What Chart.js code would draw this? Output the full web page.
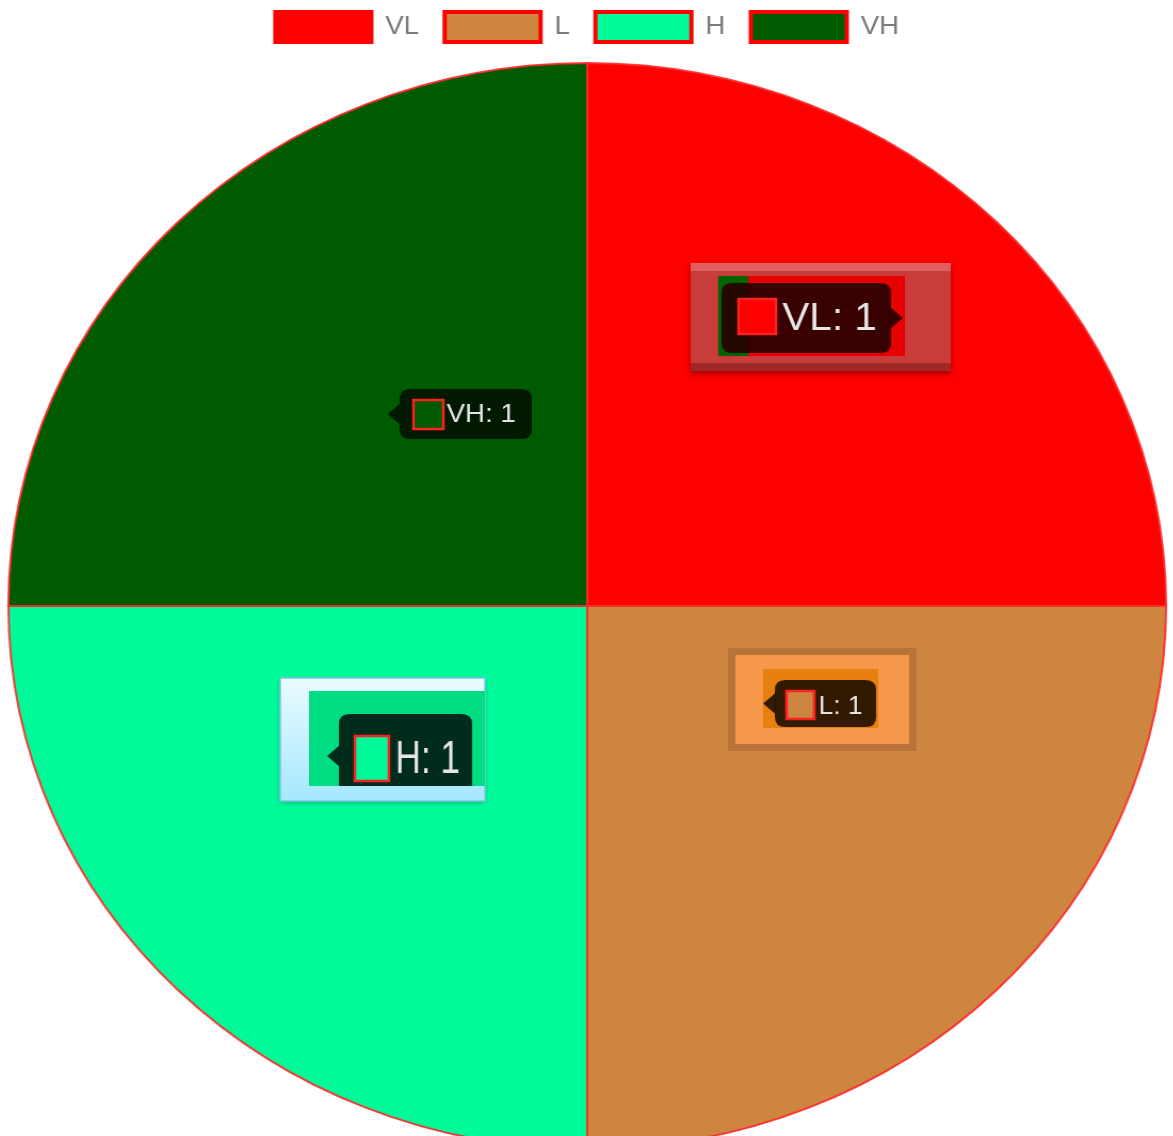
<!DOCTYPE html>
<html lang="en">
<head>
    <meta charset="UTF-8">
    <title>Pie VL / L / H / VH</title>
    <style>
        html, body { margin: 0; padding: 0; background: #fff; overflow: hidden; }
        /* the reference pie is a bit wider than it is tall */
        .wrap { width: 1098px; height: 1150px; transform: translateX(2px) scaleX(1.066); transform-origin: 0 0; }
    </style>
</head>
<body>
    <div class="wrap"><canvas id="pieChart"></canvas></div>

    <script src="https://cdn.jsdelivr.net/npm/chart.js"></script>
    <script>
        const labels = ['VL', 'L', 'H', 'VH'];
        const values = [1, 1, 1, 1];
        const colors = ['#ff0000', '#cd853f', '#00fa9a', '#005a00'];

        // the tooltip boxes that stay open on every slice
        const tips = [
            { bevel: [-95, -151, 244, 108], inner: [-69, -138, 175, 80, '#e80000'], strip: 28,
              body: [-66, -131, 159, 70, 'rgba(40,0,0,0.92)'], caret: 'right',
              sq: [-50, -115, 35, 35], text: [-9, -97], fs: 38, sx: 1 },
            { outer: [-60, -150, 177, 103, '#f5984a', '#b8733a'], inner: [-27, -129, 108, 59, '#e8800f'],
              body: [-16, -118, 95, 47, 'rgba(40,20,0,0.95)'], caret: 'left',
              sq: [-5, -107, 26, 28], text: [25, -93], fs: 26, sx: 0.95 },
            { glass: [-96, -120, 192, 123], inner: [-69, -107, 165, 95, '#00dc82'],
              body: [-41, -84, 125, 90, 'rgba(0,38,26,0.97)'], caret: 'left', caretY: -42,
              sq: [-26, -62, 32, 45], text: [12, -40], fs: 46, sx: 0.72 },
            { body: [16, -25, 124, 50, 'rgba(0,22,0,0.95)'], caret: 'left',
              sq: [29, -14, 28, 29], text: [60, -1], fs: 26, sx: 1 }
        ];

        function roundRect(ctx, x, y, w, h, r) {
            ctx.beginPath();
            ctx.moveTo(x + r, y);
            ctx.lineTo(x + w - r, y);
            ctx.quadraticCurveTo(x + w, y, x + w, y + r);
            ctx.lineTo(x + w, y + h - r);
            ctx.quadraticCurveTo(x + w, y + h, x + w - r, y + h);
            ctx.lineTo(x + r, y + h);
            ctx.quadraticCurveTo(x, y + h, x, y + h - r);
            ctx.lineTo(x, y + r);
            ctx.quadraticCurveTo(x, y, x + r, y);
            ctx.closePath();
        }

        // a bit more room under the legend
        const legendGap = {
            id: 'legendGap',
            beforeInit(chart) {
                const fit = chart.legend.fit;
                chart.legend.fit = function() {
                    fit.bind(chart.legend)();
                    this.height += 10;
                };
            }
        };

        const openTips = {
            id: 'openTips',
            afterDraw(chart) {
                const ctx = chart.ctx;
                const arcs = chart.getDatasetMeta(0).data;
                arcs.forEach((arc, i) => {
                    const t = tips[i];
                    const p = arc.tooltipPosition();
                    const X = v => p.x + v, Y = v => p.y + v;
                    ctx.save();
                    if (t.bevel) {
                        const [dx, dy, w, h] = t.bevel;
                        ctx.shadowColor = 'rgba(0,0,0,0.35)';
                        ctx.shadowBlur = 6; ctx.shadowOffsetY = 3;
                        ctx.fillStyle = '#c83c3c';
                        ctx.fillRect(X(dx), Y(dy), w, h);
                        ctx.shadowColor = 'transparent';
                        ctx.fillStyle = '#e06060';
                        ctx.fillRect(X(dx), Y(dy), w, 8);
                        ctx.fillStyle = '#a02828';
                        ctx.fillRect(X(dx), Y(dy) + h - 8, w, 8);
                    }
                    if (t.outer) {
                        const [dx, dy, w, h, f, s] = t.outer;
                        ctx.fillStyle = f;
                        ctx.fillRect(X(dx), Y(dy), w, h);
                        ctx.strokeStyle = s; ctx.lineWidth = 7;
                        ctx.strokeRect(X(dx) + 3.5, Y(dy) + 3.5, w - 7, h - 7);
                    }
                    if (t.glass) {
                        const [dx, dy, w, h] = t.glass;
                        const g = ctx.createLinearGradient(0, Y(dy), 0, Y(dy) + h);
                        g.addColorStop(0, '#eafcff');
                        g.addColorStop(1, '#a6e8ff');
                        ctx.shadowColor = 'rgba(0,0,0,0.3)';
                        ctx.shadowBlur = 5; ctx.shadowOffsetY = 2;
                        ctx.fillStyle = g;
                        ctx.fillRect(X(dx), Y(dy), w, h);
                        ctx.shadowColor = 'transparent';
                        ctx.strokeStyle = '#7cc6e6'; ctx.lineWidth = 1.5;
                        ctx.strokeRect(X(dx), Y(dy), w, h);
                    }
                    let clip = null;
                    if (t.inner) {
                        const [dx, dy, w, h, f] = t.inner;
                        ctx.fillStyle = f;
                        ctx.fillRect(X(dx), Y(dy), w, h);
                        if (t.strip) {
                            ctx.fillStyle = '#006400';
                            ctx.fillRect(X(dx), Y(dy), t.strip, h);
                        }
                        clip = [X(dx), Y(dy), w, h];
                    }
                    if (clip) {
                        ctx.beginPath();
                        ctx.rect(clip[0], clip[1], clip[2], clip[3]);
                        ctx.clip();
                    }
                    // tooltip body with caret
                    const [bx, by, bw, bh, bf] = t.body;
                    const x0 = X(bx), y0 = Y(by);
                    const cy = t.caretY !== undefined ? Y(t.caretY) : y0 + bh / 2;
                    ctx.fillStyle = bf;
                    roundRect(ctx, x0, y0, bw, bh, 10);
                    ctx.fill();
                    ctx.beginPath();
                    if (t.caret === 'left') {
                        ctx.moveTo(x0 + 1, cy - 11); ctx.lineTo(x0 - 11, cy); ctx.lineTo(x0 + 1, cy + 11);
                    } else {
                        ctx.moveTo(x0 + bw - 1, cy - 11); ctx.lineTo(x0 + bw + 11, cy); ctx.lineTo(x0 + bw - 1, cy + 11);
                    }
                    ctx.closePath();
                    ctx.fill();
                    // colour square
                    const [sx, sy, sw, sh] = t.sq;
                    ctx.fillStyle = colors[i];
                    ctx.fillRect(X(sx), Y(sy), sw, sh);
                    ctx.strokeStyle = '#ff2020'; ctx.lineWidth = 2.5;
                    ctx.strokeRect(X(sx), Y(sy), sw, sh);
                    // label
                    ctx.translate(X(t.text[0]), Y(t.text[1]));
                    ctx.scale(t.sx, 1);
                    ctx.fillStyle = '#e6e6e6';
                    ctx.font = t.fs + 'px "Liberation Sans", Arial, sans-serif';
                    ctx.textBaseline = 'middle';
                    ctx.fillText(labels[i] + ': ' + values[i], 0, 2);
                    ctx.restore();
                });
            }
        };

        const pieChart = new Chart(document.getElementById('pieChart'), {
            type: 'pie',
            data: {
                labels: labels,
                datasets: [{
                    data: values,
                    backgroundColor: colors,
                    borderColor: 'rgba(255,40,40,0.9)',
                    borderWidth: 2
                }]
            },
            options: {
                responsive: true,
                maintainAspectRatio: false,
                animation: false,
                events: [],
                layout: { padding: { top: -12, bottom: 0, left: 0, right: 0 } },
                plugins: {
                    legend: {
                        position: 'top',
                        labels: {
                            boxWidth: 90,
                            boxHeight: 30,
                            padding: 24,
                            color: '#7a7a7a',
                            font: { size: 26, family: '"Liberation Sans", Arial, sans-serif' },
                            generateLabels: function(chart) {
                                const items = Chart.overrides.pie.plugins.legend.labels.generateLabels(chart);
                                items.forEach(it => { it.lineWidth = 4; it.strokeStyle = '#ff0000'; });
                                return items;
                            }
                        }
                    },
                    tooltip: { enabled: false }
                }
            },
            plugins: [legendGap, openTips]
        });
    </script>
</body>
</html>
